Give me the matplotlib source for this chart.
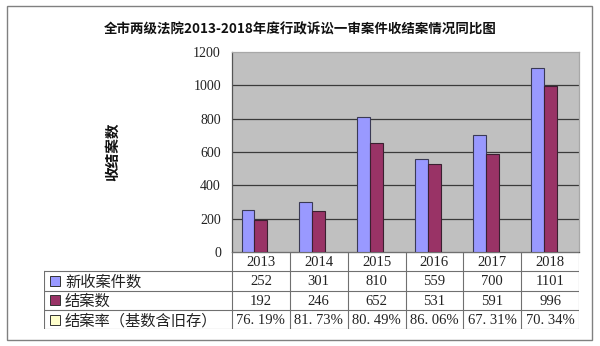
import numpy as np
import matplotlib
matplotlib.use("Agg")
import matplotlib.pyplot as plt
from matplotlib.patches import Rectangle

plt.rcParams['font.family'] = ['Noto Sans CJK SC', 'DejaVu Sans']

# 数据
years = ['2013', '2014', '2015', '2016', '2017', '2018']
new_cases = [252, 301, 810, 559, 700, 1101]
closed_cases = [192, 246, 652, 531, 591, 996]
close_rate = [76.19, 81.73, 80.49, 86.06, 67.31, 70.34]
row_labels = ['新收案件数', '结案数', '结案率（基数含旧存）']
y_ticks = [0, 200, 400, 600, 800, 1000, 1200]

title = '全市两级法院2013-2018年度行政诉讼一审案件收结案情况同比图'
y_label = '收结案数'

c_new = '#9999FF'
c_closed = '#993366'
c_rate = '#FFFFCC'

W, H = 600, 346
fig = plt.figure(figsize=(6.0, 3.46), dpi=100)
fig.patch.set_facecolor('white')

# 外框
fig.patches.append(Rectangle((7 / W, 1 - 340 / H), 585 / W, 334 / H,
                             transform=fig.transFigure, fill=False,
                             edgecolor='#808080', linewidth=1.0))

# 绘图区
px_l, px_r, px_t, px_b = 232, 579, 52, 252
ax = fig.add_axes([px_l / W, 1 - px_b / H, (px_r - px_l) / W, (px_b - px_t) / H])
ax.set_facecolor('#C0C0C0')
n = len(years)
ax.set_xlim(0, n)
ax.set_ylim(0, 1200)

# 三个系列占位（第三个系列数值过小不可见）
bw = 1 / 4.5
x = np.arange(n)
ax.bar(x + 0.75 * bw, new_cases, width=bw, align='edge', color=c_new,
       edgecolor='#3a3a55', linewidth=0.8, zorder=3)
ax.bar(x + 1.75 * bw, closed_cases, width=bw, align='edge', color=c_closed,
       edgecolor='#3a2030', linewidth=0.8, zorder=3)

ax.set_yticks(y_ticks)
ax.set_yticklabels([str(v) for v in y_ticks], family='Liberation Serif',
                   fontsize=10, color='#222222')
ax.tick_params(axis='y', length=0, pad=8)
ax.set_xticks([])
for v in y_ticks[1:-1]:
    ax.axhline(v, color='#3a3a3a', linewidth=0.9, zorder=1)
ax.spines['left'].set_color('#555555')
ax.spines['bottom'].set_color('#555555')
ax.spines['top'].set_color('#A8A8A8')
ax.spines['right'].set_color('#A8A8A8')
for s in ax.spines.values():
    s.set_linewidth(0.9)

ax.set_ylabel(y_label, fontsize=10.5, fontweight='bold', color='#111111')
ax.yaxis.set_label_coords((120 - px_l) / (px_r - px_l), 0.5)

fig.text(0.5, 1 - 30 / H, title, ha='center', va='center',
         fontsize=9.7, fontweight='bold', color='#111111')

# 数据表
tb_l, tb_b = 44, 329.3
cw = (px_r - px_l) / n
lab_w = (px_l - tb_l) / cw
tax = fig.add_axes([tb_l / W, 1 - tb_b / H, (px_r - tb_l) / W, (tb_b - px_b) / H])
tax.set_xlim(-lab_w, n)
tax.set_ylim(4, 0)
tax.axis('off')

lc = '#707070'
lw = 0.8
# 年份行
tax.plot([0, n], [0, 0], color=lc, lw=lw)
for r in range(1, 5):
    tax.plot([-lab_w, n], [r, r], color=lc, lw=lw)
for c in range(n + 1):
    tax.plot([c, c], [0, 4], color=lc, lw=lw)
tax.plot([-lab_w, -lab_w], [1, 4], color=lc, lw=lw)

serif = 'Liberation Serif'
for i, yr in enumerate(years):
    tax.text(i + 0.5, 0.55, yr, ha='center', va='center', family=serif,
             fontsize=10.5, color='#222222')
    tax.text(i + 0.5, 1.55, str(new_cases[i]), ha='center', va='center',
             family=serif, fontsize=10.5, color='#222222')
    tax.text(i + 0.5, 2.55, str(closed_cases[i]), ha='center', va='center',
             family=serif, fontsize=10.5, color='#222222')
    tax.text(i + 0.5, 3.55, f'{close_rate[i]:.2f}%'.replace('.', '. '),
             ha='center', va='center', family=serif, fontsize=10.5,
             color='#222222')

sq_w = 10 / cw
sq_h = 10 / ((tb_b - px_b) / 4)
for r, (lab, col) in enumerate(zip(row_labels, [c_new, c_closed, c_rate])):
    yc = r + 1.5
    tax.add_patch(Rectangle((-lab_w + 6 / cw, yc - sq_h / 2), sq_w, sq_h,
                            facecolor=col, edgecolor='#333333', linewidth=0.7))
    tax.text(-lab_w + 21 / cw, yc + 0.05, lab, ha='left', va='center',
             fontsize=11, color='#222222')

fig.savefig('out.png', dpi=100)
